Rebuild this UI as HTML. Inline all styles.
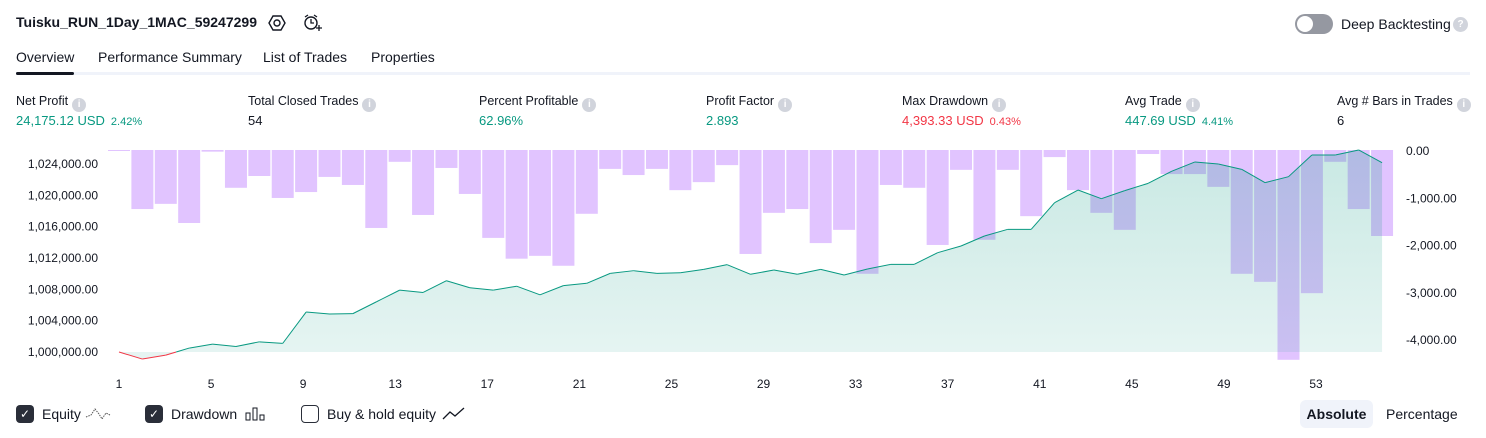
<!DOCTYPE html>
<html><head><meta charset="utf-8">
<style>
*{box-sizing:border-box;margin:0;padding:0}
body{width:1486px;height:438px;background:#fff;font-family:"Liberation Sans",sans-serif;color:#131722;position:relative;overflow:hidden}
.abs{position:absolute;white-space:nowrap}
.title{left:16px;top:14px;font-size:14px;font-weight:bold}
.tab{top:49px;font-size:14px;color:#131722}
.info{display:inline-block;width:14px;height:14px;border-radius:50%;background:#d1d4dc;color:#fff;font-size:10px;text-align:center;line-height:14px;font-weight:bold;vertical-align:-2px;margin-left:4px}
.lab{top:94px;font-size:12.5px;color:#131722}
.val{top:113px;font-size:13px}
.green{color:#089981}.red{color:#f23645}
.small{font-size:11px;margin-left:6px}
.cb{display:inline-block;width:18px;height:18px;border-radius:4px;margin-right:8px;flex:none}
.leg{top:404px;height:20px;font-size:14px;display:flex;align-items:center}
</style></head><body>
<div class="abs title">Tuisku_RUN_1Day_1MAC_59247299</div>
<svg class="abs" style="left:268px;top:14px" width="18" height="18"><polygon points="5,2 13,2 17,9 13,16 5,16 1,9" fill="none" stroke="#131722" stroke-width="1.4"/><circle cx="9" cy="9" r="3" fill="none" stroke="#131722" stroke-width="1.4"/></svg>
<svg class="abs" style="left:302px;top:13px" width="20" height="20"><circle cx="9" cy="10" r="6" fill="none" stroke="#131722" stroke-width="1.4"/><path d="M9 6v4h3M3 4l3-2M15 4l-3-2M14 15h6M17 12v6" fill="none" stroke="#131722" stroke-width="1.3"/></svg>
<div class="abs" style="left:1295px;top:14px;width:38px;height:20px;border-radius:10px;background:#9598a1"><div style="position:absolute;left:2px;top:2px;width:16px;height:16px;border-radius:50%;background:#fff"></div></div>
<div class="abs" style="left:1341px;top:16px;font-size:14px">Deep Backtesting</div>
<div class="abs" style="left:1453px;top:17px;width:15px;height:15px;border-radius:50%;background:#d1d4dc;color:#fff;font-size:10px;text-align:center;line-height:15px;font-weight:bold">?</div>

<div class="abs tab" style="left:16px">Overview</div>
<div class="abs tab" style="left:98px">Performance Summary</div>
<div class="abs tab" style="left:263px">List of Trades</div>
<div class="abs tab" style="left:371px">Properties</div>
<div class="abs" style="left:16px;top:72px;width:1454px;height:3px;background:#f0f3fa"></div>
<div class="abs" style="left:16px;top:72px;width:58px;height:3px;background:#131722;border-radius:2px"></div>

<div class="abs lab" style="left:16px">Net Profit<span class="info">i</span></div>
<div class="abs val green" style="left:16px">24,175.12 USD<span class="small">2.42%</span></div>
<div class="abs lab" style="left:248px">Total Closed Trades<span class="info">i</span></div>
<div class="abs val" style="left:248px">54</div>
<div class="abs lab" style="left:479px">Percent Profitable<span class="info">i</span></div>
<div class="abs val green" style="left:479px">62.96%</div>
<div class="abs lab" style="left:706px">Profit Factor<span class="info">i</span></div>
<div class="abs val green" style="left:706px">2.893</div>
<div class="abs lab" style="left:902px">Max Drawdown<span class="info">i</span></div>
<div class="abs val red" style="left:902px">4,393.33 USD<span class="small">0.43%</span></div>
<div class="abs lab" style="left:1125px">Avg Trade<span class="info">i</span></div>
<div class="abs val green" style="left:1125px">447.69 USD<span class="small">4.41%</span></div>
<div class="abs lab" style="left:1337px">Avg # Bars in Trades<span class="info">i</span></div>
<div class="abs val" style="left:1337px">6</div>

<svg id="chart" class="abs" style="left:0;top:0" width="1486" height="438">
<defs><linearGradient id="eg" x1="0" y1="0" x2="0" y2="1"><stop offset="0" stop-color="#089981" stop-opacity="0.22"/><stop offset="1" stop-color="#089981" stop-opacity="0.1"/></linearGradient></defs>
</svg>

<div class="abs leg" style="left:16px"><span class="cb" style="background:#2a2e39;color:#fff;font-size:12px;text-align:center;line-height:18px">✓</span>Equity&nbsp;<svg width="26" height="14"><path d="M1 10L6 8 10 2 14 7 17 12 21 6 25 8" fill="none" stroke="#555" stroke-width="1" stroke-dasharray="1.5 1"/></svg></div>
<div class="abs leg" style="left:145px"><span class="cb" style="background:#2a2e39;color:#fff;font-size:12px;text-align:center;line-height:18px">✓</span>Drawdown <svg width="22" height="14" style="margin-left:8px"><rect x="1" y="6" width="4" height="7" fill="none" stroke="#131722"/><rect x="8" y="1" width="4" height="12" fill="none" stroke="#131722"/><rect x="15" y="8" width="4" height="5" fill="none" stroke="#131722"/></svg></div>
<div class="abs leg" style="left:301px"><span class="cb" style="border:1.5px solid #2a2e39"></span>Buy &amp; hold equity <svg width="24" height="14" style="margin-left:6px"><path d="M1 12L8 5 13 9 22 1" fill="none" stroke="#131722" stroke-width="1.3"/></svg></div>
<div class="abs" style="left:1300px;top:400px;width:73px;height:28px;background:#f0f3fa;border-radius:6px;font-size:14px;font-weight:bold;text-align:center;line-height:28px">Absolute</div>
<div class="abs" style="left:1386px;top:406px;font-size:14px">Percentage</div>

<script>
const equity=[1000000,999100,999600,1000500,1001000,1000700,1001300,1001100,1005100,1004850,1004900,1006400,1007900,1007600,1009100,1008200,1007900,1008400,1007300,1008470,1008770,1010040,1010380,1010040,1010120,1010550,1011150,1009920,1010470,1009920,1010550,1009830,1010600,1011190,1011190,1012680,1013530,1014810,1015660,1015660,1019060,1020680,1019570,1020600,1021530,1023070,1024260,1024000,1023320,1021620,1022380,1025150,1025150,1025790,1024175];
const drawdown=[-15,-1250,-1140,-1545,-35,-800,-550,-1015,-890,-570,-740,-1650,-250,-1375,-380,-930,-1860,-2300,-2240,-2450,-1350,-400,-530,-400,-850,-680,-320,-2200,-1330,-1250,-1970,-1690,-2620,-740,-800,-2010,-420,-1900,-420,-1400,-150,-850,-1330,-1690,-85,-510,-510,-780,-2620,-2790,-4440,-3030,-250,-1250,-1820];
const leftTicks=[1000000,1004000,1008000,1012000,1016000,1020000,1024000];
const rightTicks=[0,-1000,-2000,-3000,-4000];
const xTicks=[1,5,9,13,17,21,25,29,33,37,41,45,49,53];
const NS='http://www.w3.org/2000/svg';
const svg=document.getElementById('chart');
const xp=i=>119+i*23.39;
const xt=k=>119+(k-1)*(1316-119)/52;
const yL=v=>352-(v-1000000)*188/24000;
const yR=v=>150-v*(189/4000);
function mk(t,a){const e=document.createElementNS(NS,t);for(const k in a)e.setAttribute(k,a[k]);svg.appendChild(e);return e;}
drawdown.forEach((d,i)=>{
  const r=mk('rect',{x:xp(i)-11,y:yR(0),width:22,height:Math.max(1,yR(d)-yR(0)),fill:'#e1c4ff'});
  
  
});
let pts=equity.map((v,i)=>xp(i)+','+yL(v));
const area=mk('polygon',{points:xp(0)+','+yL(1000000)+' '+pts.join(' ')+' '+xp(equity.length-1)+','+yL(1000000),fill:'url(#eg)'});


for(let i=0;i<equity.length-1;i++){
  const a=equity[i],b=equity[i+1];
  const x1=xp(i),x2=xp(i+1);
  if((a<1000000)!==(b<1000000)&&a!==1000000&&b!==1000000){
    const t=(1000000-a)/(b-a),xm=x1+t*(x2-x1);
    mk('line',{x1:x1,y1:yL(a),x2:xm,y2:yL(1000000),stroke:a<1000000?'#f23645':'#089981','stroke-width':1});
    mk('line',{x1:xm,y1:yL(1000000),x2:x2,y2:yL(b),stroke:b<1000000?'#f23645':'#089981','stroke-width':1});
  }else{
    const neg=(a<1000000||b<1000000);
    const l=mk('line',{x1:x1,y1:yL(a),x2:x2,y2:yL(b),stroke:neg?'#f23645':'#089981','stroke-width':1});
    
    
  }
}
leftTicks.forEach(v=>{
  const t=mk('text',{x:98,y:yL(v)+4,'text-anchor':'end','font-size':'12','fill':'#131722','font-family':'Liberation Sans, sans-serif'});
  t.textContent=v.toLocaleString('en-US',{minimumFractionDigits:2});
  
  
});
rightTicks.forEach(v=>{
  const t=mk('text',{x:1406,y:yR(v)+5,'font-size':'12','fill':'#131722','font-family':'Liberation Sans, sans-serif'});
  t.textContent=v.toLocaleString('en-US',{minimumFractionDigits:2});
  
  
});
xTicks.forEach(k=>{
  const t=mk('text',{x:xt(k),y:388,'text-anchor':'middle','font-size':'12','fill':'#131722','font-family':'Liberation Sans, sans-serif'});
  t.textContent=k;
  
  
});
</script>
</body></html>
